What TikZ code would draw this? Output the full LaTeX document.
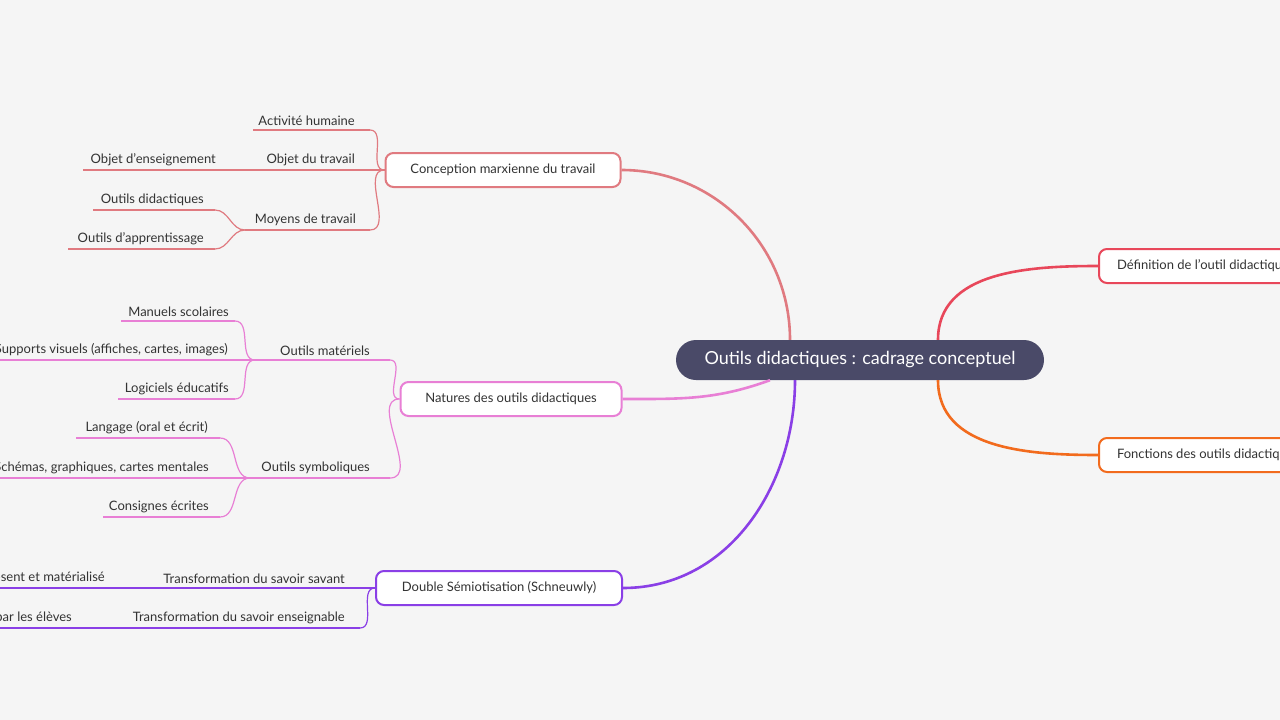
\documentclass[tikz,border=0pt]{standalone}
\usepackage{fontspec}
\setmainfont{Lato}
\usetikzlibrary{positioning}
\definecolor{bgc}{HTML}{F5F5F5}
\definecolor{cmarx}{HTML}{E07A80}
\definecolor{cnat}{HTML}{E87FD5}
\definecolor{csem}{HTML}{8A3FE6}
\definecolor{cdef}{HTML}{E8475A}
\definecolor{cfct}{HTML}{F26B1D}
\definecolor{ctxt}{HTML}{333333}
\definecolor{cmain}{HTML}{4A4A68}
% leaf: name, x1, x2, y, text right, text, colour
\newcommand\leaf[7]{%
  \coordinate (#1-w) at (#2,#4);
  \coordinate (#1-e) at (#3,#4);
  \node[leaf, anchor=south east] (#1) at (#5,#4) {#6};
  \draw[sub, #7] (#1-w) -- (#1-e);
}
\begin{document}
\begin{tikzpicture}[x=1pt,y=-1pt, font=\fontsize{13}{15}\selectfont, text=ctxt,
  leaf/.style={inner xsep=0pt, inner ysep=4pt},
  sub/.style={line width=1.2pt},
  main/.style={line width=2.6pt},
  topic/.style={draw, line width=2pt, rounded corners=8pt, fill=white, minimum height=34pt, inner xsep=18pt}]
\useasboundingbox[fill=bgc] (0,0) rectangle (1280,720);

\node[fill=cmain, text=white, rounded corners=20pt, minimum width=368pt, minimum height=40pt,
  font=\fontsize{18}{20}\selectfont] (root) at (860,360) {Outils didactiques : cadrage conceptuel};

\node[topic, draw=cmarx, minimum width=235pt] (marx) at (503,170) {Conception marxienne du travail};
\node[topic, draw=cnat, minimum width=221pt] (nat) at (511,399) {Natures des outils didactiques};
\node[topic, draw=csem, minimum width=246pt] (sem) at (499,588) {Double Sémiotisation (Schneuwly)};
\node[topic, draw=cdef, anchor=west] (def) at (1098,266) {Définition de l'outil didactique};
\node[topic, draw=cfct, anchor=west] (fct) at (1098,455) {Fonctions des outils didactiques};

\draw[main, cmarx] ([xshift=-70pt]root.north) to[out=90,in=0] (marx.east);
\draw[main, cnat] ([xshift=-90pt]root.south) to[out=200,in=0] (nat.east);
\draw[main, csem] ([xshift=-65pt]root.south) to[out=-90,in=0] (sem.east);
\draw[main, cdef] ([xshift=78pt]root.north) to[out=90,in=180] (def.west);
\draw[main, cfct] ([xshift=78pt]root.south) to[out=-90,in=180] (fct.west);

% Conception marxienne
\leaf{act}{253}{370}{130}{355}{Activité humaine}{cmarx}
\leaf{obj}{255}{386}{170}{355}{Objet du travail}{cmarx}
\leaf{moy}{245}{370}{230}{356}{Moyens de travail}{cmarx}
\leaf{ens}{83}{255}{170}{216}{Objet d'enseignement}{cmarx}
\leaf{odid}{93}{215}{210}{204}{Outils didactiques}{cmarx}
\leaf{oapp}{68}{215}{249}{204}{Outils d'apprentissage}{cmarx}
\draw[sub, cmarx] (act-e) to[out=0,in=180] (marx.west);
\draw[sub, cmarx] (moy-e) to[out=0,in=180] (marx.west);
\draw[sub, cmarx] (odid-e) to[out=0,in=180] (moy-w);
\draw[sub, cmarx] (oapp-e) to[out=0,in=180] (moy-w);

% Natures
\leaf{mat}{255}{390}{360}{370}{Outils matériels}{cnat}
\leaf{sym}{250}{390}{478}{370}{Outils symboliques}{cnat}
\leaf{man}{121}{235}{321}{229}{Manuels scolaires}{cnat}
\leaf{vis}{-30}{255}{360}{228}{Supports visuels (affiches, cartes, images)}{cnat}
\leaf{log}{118}{235}{399}{229}{Logiciels éducatifs}{cnat}
\leaf{lan}{76}{220}{438}{208}{Langage (oral et écrit)}{cnat}
\leaf{sch}{-30}{250}{478}{209}{Schémas, graphiques, cartes mentales}{cnat}
\leaf{con}{103}{220}{517}{209}{Consignes écrites}{cnat}
\draw[sub, cnat] (mat-e) to[out=0,in=180] (nat.west);
\draw[sub, cnat] (sym-e) to[out=0,in=180] (nat.west);
\draw[sub, cnat] (man-e) to[out=0,in=180] (mat-w);
\draw[sub, cnat] (log-e) to[out=0,in=180] (mat-w);
\draw[sub, cnat] (lan-e) to[out=0,in=180] (sym-w);
\draw[sub, cnat] (con-e) to[out=0,in=180] (sym-w);

% Double semiotisation
\leaf{sav}{150}{376}{588}{345}{Transformation du savoir savant}{csem}
\leaf{tens}{110}{360}{628}{345}{Transformation du savoir enseignable}{csem}
\leaf{pres}{-80}{150}{588}{105}{Savoir présent et matérialisé}{csem}
\leaf{app}{-80}{110}{628}{72}{Savoir appris par les élèves}{csem}
\draw[sub, csem] (tens-e) to[out=0,in=180] (sem.west);
\end{tikzpicture}
\end{document}
